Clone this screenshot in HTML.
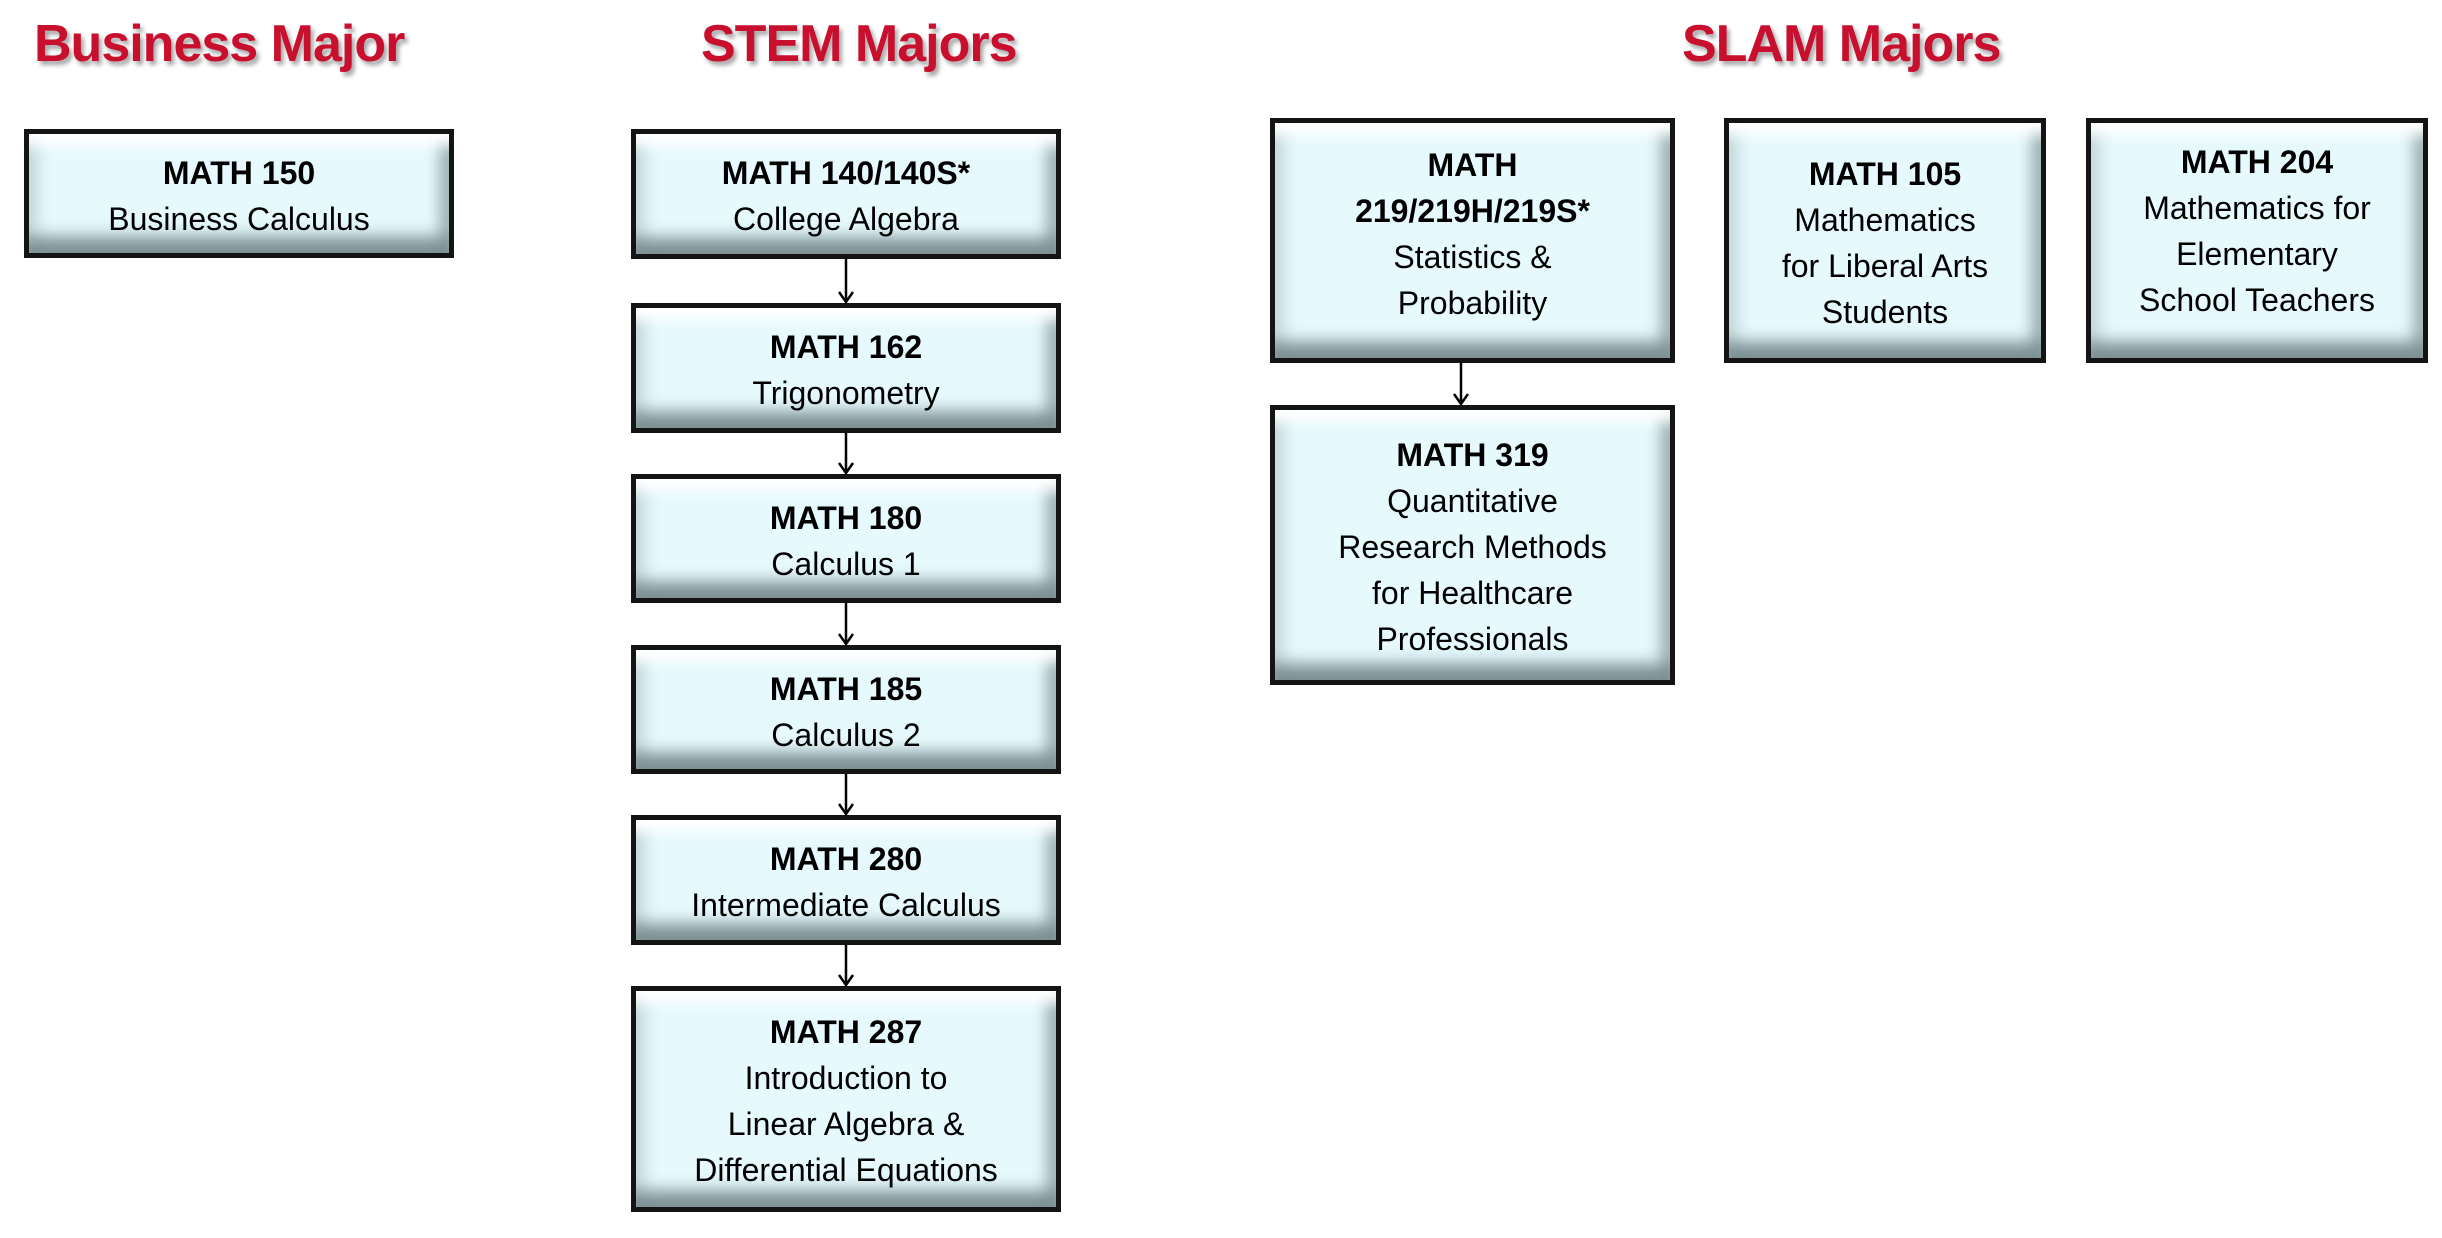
<!DOCTYPE html>
<html><head><meta charset="utf-8"><style>
body{margin:0;width:2442px;height:1238px;background:#fff;position:relative;overflow:hidden;font-family:"Liberation Sans",sans-serif;}
.t{position:absolute;top:14px;font-weight:bold;color:#c8102e;font-size:52px;text-shadow:3px 4px 4px rgba(0,0,0,.35);white-space:nowrap;letter-spacing:-1px}
.b{position:absolute;box-sizing:border-box;border:5px solid #141414;background:#e6f9fd;
box-shadow:inset 0 22px 14px -10px #ffffff,inset 0 -26px 16px -10px #7c9094,inset 22px 0 14px -12px #c9dde0,inset -22px 0 14px -12px #9fb3b6;
display:flex;flex-direction:column;justify-content:center;align-items:center;text-align:center;font-size:32px;line-height:46px;color:#000;padding-top:4px}
.b b{font-size:32px}
svg{position:absolute;left:0;top:0}
</style></head><body>
<div class="t" style="left:34px">Business Major</div>
<div class="t" style="left:701px">STEM Majors</div>
<div class="t" style="left:1682px">SLAM Majors</div>

<div class="b" style="left:24px;top:129px;width:430px;height:129px"><b>MATH 150</b>Business Calculus</div>

<div class="b" style="left:631px;top:129px;width:430px;height:130px"><b>MATH 140/140S*</b>College Algebra</div>
<div class="b" style="left:631px;top:303px;width:430px;height:130px"><b>MATH 162</b>Trigonometry</div>
<div class="b" style="left:631px;top:474px;width:430px;height:129px"><b>MATH 180</b>Calculus 1</div>
<div class="b" style="left:631px;top:645px;width:430px;height:129px"><b>MATH 185</b>Calculus 2</div>
<div class="b" style="left:631px;top:815px;width:430px;height:130px"><b>MATH 280</b>Intermediate Calculus</div>
<div class="b" style="left:631px;top:986px;width:430px;height:226px"><b>MATH 287</b>Introduction to<br>Linear Algebra &amp;<br>Differential Equations</div>

<div class="b" style="left:1270px;top:118px;width:405px;height:245px;padding-top:0;padding-bottom:14px"><b>MATH<br>219/219H/219S*</b>Statistics &amp;<br>Probability</div>
<div class="b" style="left:1270px;top:405px;width:405px;height:280px"><b>MATH 319</b>Quantitative<br>Research Methods<br>for Healthcare<br>Professionals</div>
<div class="b" style="left:1724px;top:118px;width:322px;height:245px"><b>MATH 105</b>Mathematics<br>for Liberal Arts<br>Students</div>
<div class="b" style="left:2086px;top:118px;width:342px;height:245px;padding-top:0;padding-bottom:20px"><b>MATH 204</b>Mathematics for<br>Elementary<br>School Teachers</div>

<svg width="2442" height="1238" fill="none" stroke="#000" stroke-width="2.5">
<g>
<path d="M846 259V302M839 292L846 302L853 292"/>
<path d="M846 433V473M839 463L846 473L853 463"/>
<path d="M846 603V644M839 634L846 644L853 634"/>
<path d="M846 774V814M839 804L846 814L853 804"/>
<path d="M846 945V985M839 975L846 985L853 975"/>
<path d="M1461 363V404M1454 394L1461 404L1468 394"/>
</g>
</svg>
</body></html>
